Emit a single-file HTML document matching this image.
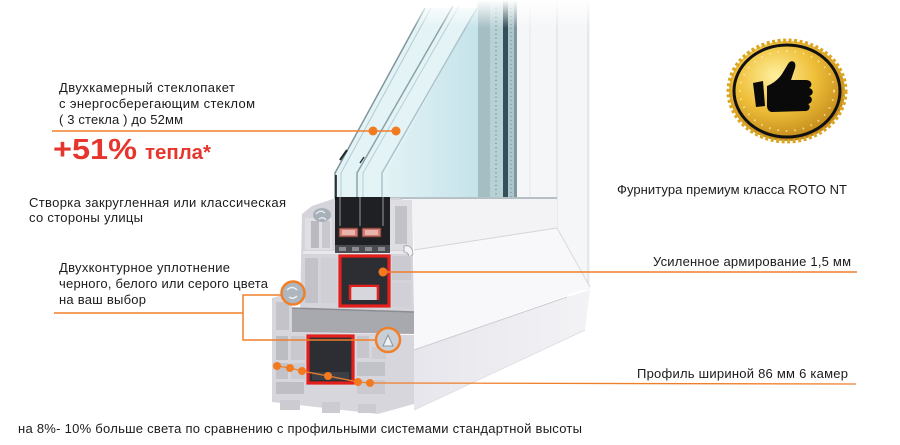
<!DOCTYPE html>
<html><head><meta charset="utf-8">
<style>
html,body{margin:0;padding:0;background:#fff;width:900px;height:445px;overflow:hidden}
svg{display:block}
text{font-family:"Liberation Sans","DejaVu Sans",sans-serif;fill:#1b1b1b}
</style></head><body>
<svg width="900" height="445" viewBox="0 0 900 445" xmlns="http://www.w3.org/2000/svg">
<defs>
 <linearGradient id="fade" x1="0" y1="0" x2="0" y2="1">
  <stop offset="0" stop-color="#fff" stop-opacity="1"/>
  <stop offset="1" stop-color="#fff" stop-opacity="0"/>
 </linearGradient>
 <linearGradient id="glass" x1="0" y1="0" x2="1" y2="0">
  <stop offset="0" stop-color="#e2f2f5"/><stop offset="1" stop-color="#c4e3ea"/>
 </linearGradient>
 <linearGradient id="frameface" x1="0" y1="0" x2="1" y2="0">
  <stop offset="0" stop-color="#e6e6ec"/><stop offset="1" stop-color="#f3f3f6"/>
 </linearGradient>
 <radialGradient id="gold" cx="0.4" cy="0.35" r="0.75">
  <stop offset="0" stop-color="#fff0a0"/><stop offset="0.45" stop-color="#efc03a"/><stop offset="1" stop-color="#b57810"/>
 </radialGradient>
</defs>

<!-- right frame vertical part -->
<rect x="517" y="0" width="73" height="290" fill="#f5f6f8"/>
<line x1="530" y1="0" x2="530" y2="200" stroke="#e4e6ea" stroke-width="1"/>
<line x1="557" y1="0" x2="557" y2="228" stroke="#dadce1" stroke-width="1"/>
<line x1="588" y1="0" x2="588" y2="287" stroke="#dcdee2" stroke-width="1.2"/>

<!-- sash bevel / faces -->
<polygon points="385,198 517,197 557,199 557,228 414,250 412,206" fill="#f3f3f6"/>
<line x1="385" y1="198" x2="557" y2="198" stroke="#9fb0b5" stroke-width="1.5"/>
<polygon points="414,250 557,228 590,287 414,350" fill="#f8f8fa"/>
<line x1="414" y1="250" x2="557" y2="228" stroke="#d4d4da" stroke-width="1"/>
<line x1="557" y1="228" x2="590" y2="287" stroke="#dadade" stroke-width="1"/>
<polygon points="414,350 567,297 590,290 585,330 414,410" fill="url(#frameface)"/>
<line x1="414" y1="350" x2="567" y2="297" stroke="#cdcdd4" stroke-width="1"/>
<line x1="414" y1="410" x2="585" y2="330" stroke="#e0e0e6" stroke-width="1"/>

<!-- glass -->
<polygon points="477,0 480,0 480,197 385,197 385,173 477,8" fill="url(#glass)"/>
<polygon points="425,8 477,8 385,173 385,197 335,197 335,173" fill="#e4f3f6"/>
<polyline points="425,8 335,173 335,200" fill="none" stroke="#7f979d" stroke-width="1.5"/>
<polyline points="431,8 341,173 341,200" fill="none" stroke="#b2ccd1" stroke-width="1"/>
<polyline points="453,6 357,173 357,200" fill="none" stroke="#8aa3a9" stroke-width="1.5"/>
<polyline points="459,6 363,173 363,200" fill="none" stroke="#b8d0d5" stroke-width="1"/>
<polyline points="477,8 382,173 382,200" fill="none" stroke="#a9c5cb" stroke-width="1.5"/>
<line x1="340" y1="160" x2="347" y2="150" stroke="#1d2a2e" stroke-width="2"/>
<line x1="360" y1="163" x2="364" y2="157" stroke="#2a3a3e" stroke-width="1.5"/>

<!-- vertical glass unit stripes -->
<rect x="478" y="0" width="12" height="197" fill="#a4bec4"/>
<rect x="490" y="0" width="13" height="197" fill="#b8d1d5"/>
<line x1="496" y1="0" x2="496" y2="197" stroke="#6d8a92" stroke-width="1.2" stroke-dasharray="1.2 3"/>
<rect x="503" y="0" width="5" height="197" fill="#33505a"/>
<rect x="508" y="0" width="6" height="197" fill="#adc6cb"/>
<line x1="511" y1="0" x2="511" y2="197" stroke="#6d8a92" stroke-width="1" stroke-dasharray="1 3"/>
<rect x="514" y="0" width="3" height="197" fill="#7f979d"/>

<!-- top fade -->
<rect x="320" y="0" width="280" height="28" fill="url(#fade)"/>

<!-- SASH cross-section -->
<polygon points="302,214 312,206 336,198 400,198 412,206 414,312 300,312" fill="#d4d4da"/>
<rect x="305" y="218" width="27" height="32" fill="#e0e0e4"/>
<rect x="311" y="221" width="8" height="27" fill="#b9b9c0"/>
<rect x="322" y="221" width="8" height="27" fill="#c8c8ce"/>
<rect x="303" y="251" width="110" height="3" fill="#e9e9ed"/>
<rect x="305" y="258" width="13" height="45" fill="#c2c2c8"/>
<rect x="321" y="258" width="16" height="45" fill="#cfcfd5"/>
<ellipse cx="322" cy="215" rx="9" ry="7" fill="#a8b0b8"/>
<path d="M316,214 q4,-5 9,-1 M319,219 q4,-3 7,1" stroke="#eef" stroke-width="1.2" fill="none"/>
<!-- black glazing block -->
<rect x="335" y="197" width="55" height="48" fill="#1f2023"/>
<rect x="335" y="245" width="55" height="8" fill="#4a4b50"/>
<rect x="339" y="247" width="7" height="4" fill="#8b8b92"/>
<rect x="352" y="247" width="7" height="4" fill="#8b8b92"/>
<rect x="365" y="247" width="7" height="4" fill="#8b8b92"/>
<rect x="378" y="247" width="7" height="4" fill="#8b8b92"/>
<line x1="340" y1="197" x2="340" y2="226" stroke="#5a5d62" stroke-width="2"/>
<line x1="360" y1="197" x2="360" y2="226" stroke="#5a5d62" stroke-width="2"/>
<line x1="383" y1="197" x2="383" y2="226" stroke="#5a5d62" stroke-width="2"/>
<rect x="339" y="228" width="19" height="9" fill="#cf7d74" stroke="#5a2a25" stroke-width="1"/>
<rect x="342" y="230" width="13" height="5" fill="#eab4ab"/>
<rect x="362" y="228" width="19" height="9" fill="#cf7d74" stroke="#5a2a25" stroke-width="1"/>
<rect x="365" y="230" width="13" height="5" fill="#eab4ab"/>
<line x1="336" y1="175" x2="336" y2="200" stroke="#111" stroke-width="1.5"/>
<!-- sash right column -->
<rect x="390" y="200" width="22" height="50" fill="#dedee2"/>
<rect x="395" y="206" width="12" height="38" fill="#c2c2c9"/>
<path d="M404,246 q8,-2 9,8 l-4,4 q0,-6 -5,-6 z" fill="#f4f4f6" stroke="#9a9aa2" stroke-width="0.8"/>
<!-- upper reinforcement -->
<rect x="340" y="256" width="49" height="50" fill="#2c2e34" stroke="#e3201b" stroke-width="3.2"/>
<path d="M350,300 V286 H378 V300" fill="#cfcfd5" stroke="#e3201b" stroke-width="2.5"/>
<rect x="352" y="287" width="24" height="13" fill="#d6d6dc"/>
<rect x="392" y="256" width="19" height="24" fill="#cacad0"/>
<rect x="392" y="283" width="19" height="24" fill="#d0d0d6"/>

<!-- gap between sash and frame -->
<polygon points="290,308 414,312 414,334 290,332" fill="#a8a8af"/>
<line x1="290" y1="308" x2="414" y2="312" stroke="#8c8c93" stroke-width="1.5"/>

<!-- FRAME cross-section -->
<polygon points="272,298 286,294 292,300 292,332 414,335 414,404 378,414 272,402" fill="#d6d6dc"/>
<rect x="276" y="302" width="13" height="28" fill="#c3c3c9"/>
<rect x="276" y="336" width="12" height="24" fill="#bcbcc3"/>
<rect x="291" y="336" width="14" height="24" fill="#c8c8ce"/>
<rect x="276" y="363" width="12" height="16" fill="#c2c2c8"/>
<rect x="291" y="363" width="14" height="16" fill="#cbcbd1"/>
<rect x="276" y="382" width="28" height="12" fill="#bebec4"/>
<rect x="308" y="336" width="45" height="47" fill="#2c2e34" stroke="#e3201b" stroke-width="3.2"/>
<rect x="312" y="372" width="37" height="8" fill="#3c3f46"/>
<rect x="357" y="336" width="12" height="22" fill="#c6c6cc"/>
<rect x="372" y="347" width="14" height="12" fill="#cdcdd3"/>
<rect x="357" y="362" width="28" height="14" fill="#c2c2c9"/>
<rect x="357" y="380" width="28" height="14" fill="#cacad0"/>
<rect x="280" y="400" width="20" height="10" fill="#cbcbd1"/>
<rect x="322" y="402" width="18" height="11" fill="#cbcbd1"/>
<rect x="358" y="404" width="18" height="9" fill="#cbcbd1"/>

<!-- seal circles -->
<circle cx="293" cy="293" r="11.5" fill="#aeb6bf" stroke="#f07f2a" stroke-width="2.5"/>
<path d="M287,290 q5,-5 10,0 M289,297 q4,3 8,-1" stroke="#eef2f6" stroke-width="1.5" fill="none"/>
<circle cx="388" cy="340" r="12" fill="#c9cfd6" stroke="#f07f2a" stroke-width="2.5"/>
<path d="M383,346 l5,-11 l5,11 z" fill="#eef2f6" stroke="#8d959e" stroke-width="1"/>

<!-- connectors -->
<g stroke="#f07f2a" stroke-width="1.5" fill="none">
 <line x1="52" y1="131" x2="398" y2="131"/>
 <line x1="54" y1="313" x2="243" y2="313"/>
 <polyline points="281,295 243,295 243,340 376,340"/>
 <line x1="383" y1="272" x2="857" y2="272"/>
 <polyline points="277,366 290,368 302,371 328,376 358,382 370,383 856,384" stroke-width="1.3"/>
</g>
<g fill="#f47a20">
 <circle cx="373" cy="131" r="4.5"/>
 <circle cx="396" cy="131" r="4.5"/>
 <circle cx="383" cy="272" r="4.5"/>
 <circle cx="277" cy="366" r="4"/>
 <circle cx="290" cy="368" r="4"/>
 <circle cx="302" cy="371" r="4"/>
 <circle cx="328" cy="376" r="4"/>
 <circle cx="358" cy="382" r="4"/>
 <circle cx="370" cy="383" r="4"/>
</g>

<!-- badge -->
<ellipse cx="787" cy="91" rx="58" ry="50" fill="url(#gold)"/>
<ellipse cx="787" cy="91" rx="58.5" ry="50.5" fill="none" stroke="#dca624" stroke-width="4" stroke-dasharray="3 2.5"/>
<ellipse cx="787" cy="91" rx="53" ry="46" fill="none" stroke="#111" stroke-width="3"/>
<ellipse cx="787" cy="91" rx="47" ry="40" fill="none" stroke="#fff3b0" stroke-width="2" stroke-dasharray="1.5 7" opacity="0.7"/>
<polygon points="753,83 763,81 765,106 756,107" fill="#0a0a0a"/>
<path d="M767,86 C772,84 778,80 782,74 L788,64 C791,59 797,61 795,68 L791,80 L806,80 C812,80 813,86 809,88 C814,89 814,95 809,96 C813,97 813,103 808,104 C811,106 810,111 805,111 L772,112 C769,112 767,109 767,106 Z" fill="#0a0a0a"/>

<!-- texts -->
<g font-size="13">
 <text x="59" y="92" textLength="176" lengthAdjust="spacing">Двухкамерный стеклопакет</text>
 <text x="59" y="108" textLength="196" lengthAdjust="spacing">с энергосберегающим стеклом</text>
 <text x="59" y="124" textLength="124" lengthAdjust="spacing">( 3 стекла ) до 52мм</text>
 <text x="29" y="207" textLength="257" lengthAdjust="spacing">Створка закругленная или классическая</text>
 <text x="29" y="222" textLength="114" lengthAdjust="spacing">со стороны улицы</text>
 <text x="59" y="272" textLength="171" lengthAdjust="spacing">Двухконтурное уплотнение</text>
 <text x="59" y="288" textLength="209" lengthAdjust="spacing">черного, белого или серого цвета</text>
 <text x="59" y="304" textLength="87" lengthAdjust="spacing">на ваш выбор</text>
 <text x="617" y="194" textLength="230" lengthAdjust="spacing">Фурнитура премиум класса ROTO NT</text>
 <text x="653" y="266" textLength="198" lengthAdjust="spacing">Усиленное армирование 1,5 мм</text>
 <text x="637" y="378" textLength="211" lengthAdjust="spacing">Профиль шириной 86 мм 6 камер</text>
 <text x="18" y="433" textLength="564" lengthAdjust="spacing">на 8%- 10%  больше света по сравнению с профильными системами стандартной высоты</text>
</g>
<text x="53" y="159" font-size="29" font-weight="bold" style="fill:#e5352c" textLength="84" lengthAdjust="spacingAndGlyphs">+51%</text>
<text x="145" y="159" font-size="20" font-weight="bold" style="fill:#e5352c" textLength="66" lengthAdjust="spacingAndGlyphs">тепла*</text>
</svg>
</body></html>
